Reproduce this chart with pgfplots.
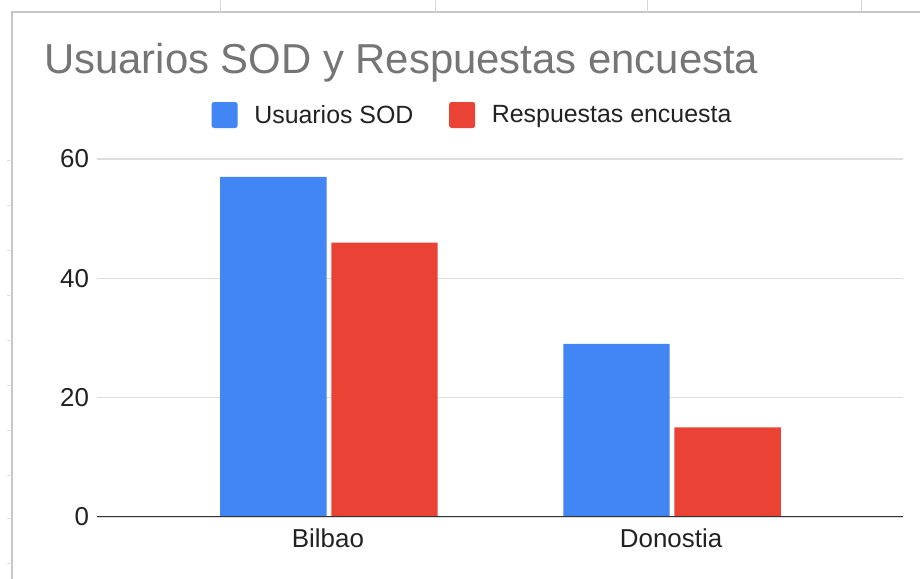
\documentclass[border=0pt]{standalone}
\usepackage{fontspec}
\setmainfont{Liberation Sans}
\usepackage{pgfplots}
\pgfplotsset{compat=1.18}
\definecolor{gblue}{HTML}{4285F4}
\definecolor{gred}{HTML}{EA4335}
\definecolor{titlegray}{HTML}{757575}
\definecolor{labelcol}{HTML}{222222}
\definecolor{gridgray}{HTML}{DDDDDD}
\definecolor{basecol}{HTML}{333333}
\definecolor{framegray}{HTML}{C6C6C6}
\begin{document}
\begin{tikzpicture}
\useasboundingbox (0,0) rectangle (920bp,579bp);
\fill[white] (0,0) rectangle (920bp,579bp);
% spreadsheet cell frame
\draw[framegray, line width=1.2bp] (12bp,0) -- (12bp,567bp) -- (920bp,567bp);
\foreach \xx in {220,435,647,861} \draw[framegray!70, line width=1bp] (\xx bp,567bp) -- (\xx bp,579bp);
\foreach \yy in {160,205,250,295,340,385,430,475,518,563} \draw[framegray!60, line width=0.8bp] (7bp,579bp-\yy bp) -- (12bp,579bp-\yy bp);
% title
\node[anchor=base west, inner sep=0pt, font=\fontsize{42}{48}\selectfont, text=titlegray] at (44bp,505bp) {Usuarios SOD y Respuestas encuesta};
\begin{axis}[
  at={(97bp,62bp)}, anchor=south west,
  scale only axis, width=806bp, height=358bp,
  xmin=-0.673, xmax=1.676, ymin=0, ymax=60,
  xtick={0,1}, xticklabels={Bilbao,Donostia},
  ytick={0,20,40,60},
  axis line style={draw=none},
  major tick length=0pt,
  ymajorgrids,
  grid style={color=gridgray, line width=1.2bp},
  /pgf/number format/assume math mode=true,
  tick label style={font=\fontsize{26}{31}\selectfont, text=labelcol},
  xticklabel style={yshift=-8bp},
  yticklabel style={xshift=-4.5bp},
  legend columns=-1,
  legend style={at={(0.4659,1.1229)}, anchor=center, draw=none, fill=none,
    font=\fontsize{25}{30}\selectfont, text=labelcol,
    /tikz/every odd column/.append style={column sep=14.7bp},
    /tikz/every even column/.append style={column sep=33.7bp}},
  legend image code/.code={\fill[#1, rounded corners=2.5bp] (0bp,-13bp) rectangle (26bp,13bp);},
]
\addplot[ybar, bar width=0.31, bar shift=-0.159, fill=gblue, draw=none] coordinates {(0,57) (1,29)};
\addlegendentry{Usuarios SOD}
\addplot[ybar, bar width=0.31, bar shift=0.165, fill=gred, draw=none] coordinates {(0,46) (1,15)};
\addlegendentry{Respuestas encuesta}
\draw[basecol, line width=1.6bp] (rel axis cs:0,0) -- (rel axis cs:1,0);
\end{axis}
\end{tikzpicture}
\end{document}
